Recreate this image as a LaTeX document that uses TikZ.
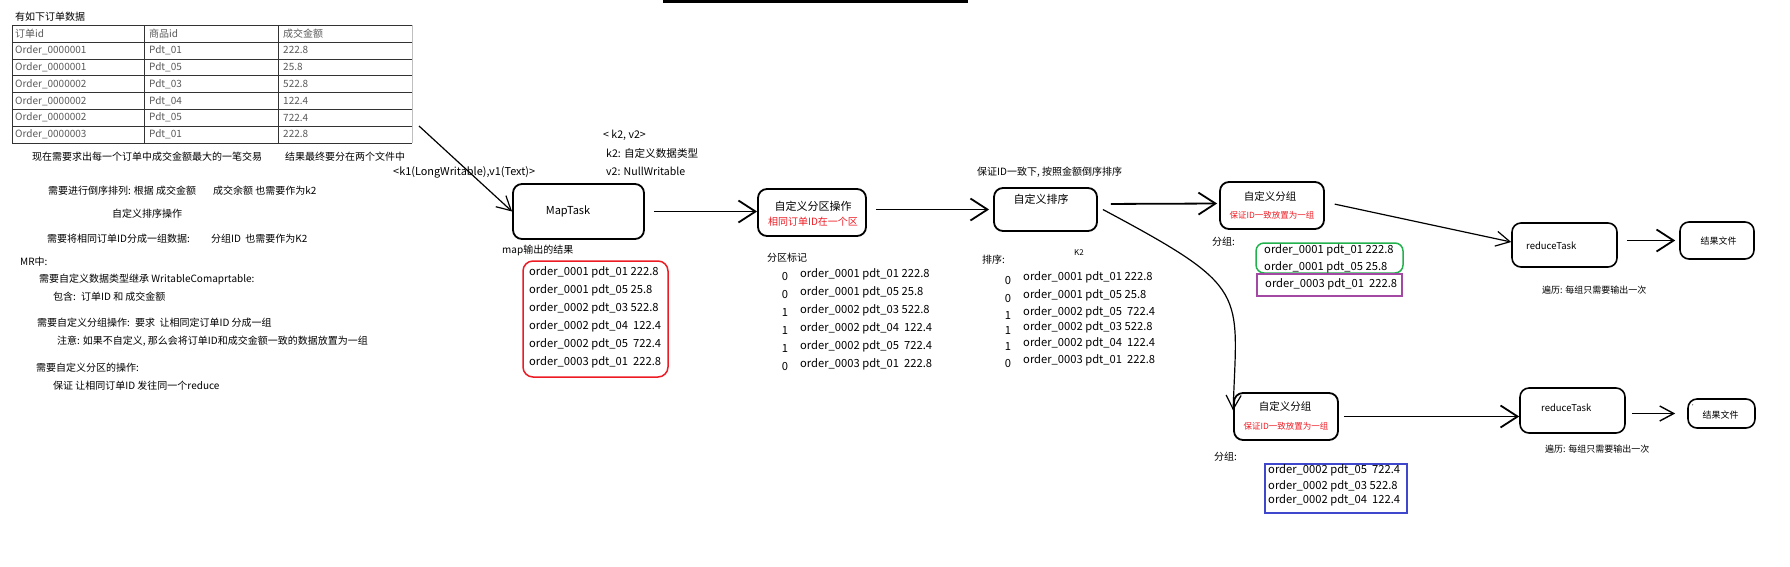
\documentclass[tikz,border=0pt]{standalone}
\usepackage{fontspec}
\setmainfont{Noto Sans CJK SC}
\usepackage{xcolor}
\definecolor{colRed}{HTML}{ED1C24}
\definecolor{colGreen}{HTML}{22B14C}
\definecolor{colPurple}{HTML}{A349A4}
\definecolor{colBlue}{HTML}{3F48CC}
\definecolor{colGrey}{HTML}{595959}
\usetikzlibrary{arrows.meta, positioning}

\tikzset{
  procbox/.style={draw, line width=1.8pt, rounded corners=9pt, inner sep=0pt},
  note/.style={anchor=west, inner sep=0pt, font=\fontsize{10}{12}\selectfont},
  kvtxt/.style={anchor=west, inner sep=0pt, font=\fontsize{10.6}{12}\selectfont},
  tbltxt/.style={anchor=west, inner sep=0pt, text=colGrey, font=\fontsize{10}{12}\selectfont},
  rowtxt/.style={anchor=west, inner sep=0pt, font=\fontsize{11.2}{13}\selectfont},
  boxtxt/.style={inner sep=0pt, font=\fontsize{11}{13}\selectfont},
  redtxt/.style={inner sep=0pt, text=colRed, font=\fontsize{8.5}{10}\selectfont},
  smalltxt/.style={anchor=west, inner sep=0pt, font=\fontsize{9}{11}\selectfont},
  flow/.style={line width=1.8pt, -{Straight Barb[length=17pt,width=22pt]}},
  thinflow/.style={line width=1.2pt, -{Straight Barb[length=14pt,width=15pt]}},
}

\begin{document}
\begin{tikzpicture}[x=1pt, y=-1pt]
  \useasboundingbox (0,0) rectangle (1790,566);
  % bar at the top
  \fill (663,0) rectangle (968,2.5);

  % === order table ===
  \node[note] (tbltitle) at (15,17) {有如下订单数据};
  \foreach \y in {25,42.3,59,75.8,92.6,109.4,126.2,143}
    \draw[line width=0.8pt, black!80] (12,\y) -- (412,\y);
  \foreach \x in {12,144,278}
    \draw[line width=0.8pt, black!80] (\x,25) -- (\x,143);
  \draw[line width=0.8pt, black!25] (412,25) -- (412,143);
  \node[tbltxt] (hdord) at (15,33.6) {订单id};
  \node[tbltxt] (hdpdt) at (149,33.6) {商品id};
  \node[tbltxt] (hdamt) at (283,33.6) {成交金额};
  \foreach \oid/\pid/\amt [count=\i] in {0000001/01/222.8, 0000001/05/25.8,
      0000002/03/522.8, 0000002/04/122.4, 0000002/05/722.4, 0000003/01/222.8} {
    \node[tbltxt] (ord\i) at (15,{33.6+16.8*\i}) {Order\_\oid};
    \node[tbltxt] (pdt\i) at (149,{33.6+16.8*\i}) {Pdt\_\pid};
    \node[tbltxt] (amt\i) at (283,{33.6+16.8*\i}) {\amt};
  }

  % === notes on the left ===
  \node[note] (n1)  at (32,157)  {现在需要求出每一个订单中成交金额最大的一笔交易};
  \node[note] (n1b) at (285,157) {结果最终要分在两个文件中};
  \node[note] (n2)  at (48,191)  {需要进行倒序排列: 根据 成交金额};
  \node[note] (n2b) at (213,191) {成交余额 也需要作为k2};
  \node[note] (n3)  at (112,214) {自定义排序操作};
  \node[note] (n4)  at (47,239)  {需要将相同订单ID分成一组数据:};
  \node[note] (n4b) at (211,239) {分组ID~ 也需要作为K2};
  \node[note] (n5)  at (20,262)  {MR中:};
  \node[note] (n6)  at (39,279)  {需要自定义数据类型继承 WritableComaprtable:};
  \node[note] (n7)  at (53,297)  {包含:~ 订单ID 和 成交金额};
  \node[note] (n8)  at (37,323)  {需要自定义分组操作:~ 要求~ 让相同定订单ID 分成一组};
  \node[note] (n9)  at (57,341)  {注意: 如果不自定义, 那么会将订单ID和成交金额一致的数据放置为一组};
  \node[note] (n10) at (36,368)  {需要自定义分区的操作:};
  \node[note] (n11) at (53,386)  {保证 让相同订单ID 发往同一个reduce};

  % === map stage ===
  \node[kvtxt, font=\fontsize{10.9}{12}\selectfont] (kv1) at (393,172) {<k1(LongWritable),v1(Text)>};
  \node[kvtxt] (kv2) at (603,135) {< k2, v2>};
  \node[kvtxt] (k2t) at (606,153) {k2: 自定义数据类型};
  \node[kvtxt] (v2t) at (606,171) {v2: NullWritable};
  \node[procbox, minimum width=131pt, minimum height=55pt] (maptask) at (578.5,211.5) {};
  \node[boxtxt] (maptxt) at (568,211) {MapTask};
  \coordinate (feed) at (419,126);
  \draw[thinflow] (feed) -- (maptask.west);

  \node[note] (mapout) at (502,250) {map输出的结果};
  \draw[colRed, line width=1.5pt, rounded corners=10pt] (523,261) rectangle (668,377);
  \foreach \r [count=\i] in {order\_0001 pdt\_01 222.8, order\_0001 pdt\_05 25.8,
      order\_0002 pdt\_03 522.8, order\_0002 pdt\_04~ 122.4,
      order\_0002 pdt\_05~ 722.4, order\_0003 pdt\_01~ 222.8}
    \node[rowtxt] (mr\i) at (529,{254+18*\i}) {\r};

  % === partition stage ===
  \node[procbox, minimum width=108pt, minimum height=47pt] (partbox) at (812,212.5) {};
  \node[boxtxt] (parttxt) at (813,206) {自定义分区操作};
  \node[redtxt, font=\fontsize{10}{12}\selectfont] (partred) at (813,222) {相同订单ID在一个区};
  \draw[flow, shorten <=9pt] (maptask.east) -- (maptask.east -| partbox.west);

  \node[note] (partlbl) at (767,258) {分区标记};
  \foreach \n/\r [count=\i] in {0/order\_0001 pdt\_01 222.8, 0/order\_0001 pdt\_05 25.8,
      1/order\_0002 pdt\_03 522.8, 1/order\_0002 pdt\_04~ 122.4,
      1/order\_0002 pdt\_05~ 722.4, 0/order\_0003 pdt\_01~ 222.8} {
    \node[rowtxt, anchor=center] (pn\i) at (785,{258+18*\i}) {\n};
    \node[rowtxt] (pr\i) at (800,{256+18*\i}) {\r};
  }

  % === sort stage ===
  \node[note] (sortnote) at (977,172) {保证ID一致下, 按照金额倒序排序};
  \node[procbox, minimum width=103pt, minimum height=43pt] (sortbox) at (1045.5,209.5) {};
  \node[boxtxt] (sorttxt) at (1041,199) {自定义排序};
  \draw[flow, shorten <=9pt, shorten >=4pt] (partbox.east |- sortbox.west) -- (sortbox.west);

  \node[inner sep=0pt, font=\fontsize{8}{9}\selectfont] (k2lbl) at (1079,253) {K2};
  \node[note] (sortlbl) at (982,260) {排序:};
  \foreach \n/\r/\y [count=\i] in {0/order\_0001 pdt\_01 222.8/277, 0/order\_0001 pdt\_05 25.8/295,
      1/order\_0002 pdt\_05~ 722.4/312, 1/order\_0002 pdt\_03 522.8/327,
      1/order\_0002 pdt\_04~ 122.4/343, 0/order\_0003 pdt\_01~ 222.8/360} {
    \node[rowtxt, anchor=center] (sn\i) at (1008,\y+3) {\n};
    \node[rowtxt] (sr\i) at (1023,\y) {\r};
  }

  % === grouping, first reducer ===
  \node[procbox, minimum width=104pt, minimum height=47pt] (grp1) at (1272,205.5) {};
  \node[boxtxt, font=\fontsize{10.5}{12}\selectfont] (grp1txt) at (1270,196) {自定义分组};
  \node[redtxt] (grp1red) at (1272,215) {保证ID一致放置为一组};
  \draw[flow, shorten <=13pt, shorten >=2pt] ([yshift=5.5pt]sortbox.east) -- ([yshift=2pt]grp1.west);

  \node[note] (grp1lbl) at (1212,242) {分组:};
  \draw[colGreen, line width=1.5pt, rounded corners=8pt] (1256,243) rectangle (1403,273);
  \draw[colPurple, line width=1.5pt] (1257,274) rectangle (1402,296);
  \node[rowtxt] (g1r1) at (1264,250) {order\_0001 pdt\_01 222.8};
  \node[rowtxt] (g1r2) at (1264,267) {order\_0001 pdt\_05 25.8};
  \node[rowtxt] (g1r3) at (1265,284) {order\_0003 pdt\_01~ 222.8};

  \node[procbox, line width=1.6pt, minimum width=105pt, minimum height=44pt] (red1) at (1564.5,245) {};
  \node[smalltxt, font=\fontsize{9.5}{11}\selectfont] (red1txt) at (1526,246) {reduceTask};
  \draw[thinflow, shorten <=10pt] ([yshift=3.5pt]grp1.east) -- ([yshift=3pt]red1.west);
  \node[smalltxt] (trav1) at (1542,290) {遍历: 每组只需要输出一次};

  \node[procbox, line width=1.6pt, minimum width=74pt, minimum height=37pt] (file1) at (1717,240.5) {};
  \node[boxtxt, font=\fontsize{9}{11}\selectfont] (file1txt) at (1718.5,241) {结果文件};
  \draw[flow, shorten <=9pt, shorten >=4pt] (red1.east |- file1.west) -- (file1.west);

  % === grouping, second reducer ===
  \node[procbox, minimum width=104pt, minimum height=47pt] (grp2) at (1286,416.5) {};
  \node[boxtxt, font=\fontsize{10.5}{12}\selectfont] (grp2txt) at (1285,406) {自定义分组};
  \node[redtxt] (grp2red) at (1286,426) {保证ID一致放置为一组};
  \draw[thinflow] ([xshift=5pt]sortbox.east) .. controls +(148,79) and +(4,-120) .. ([yshift=6pt]grp2.west);

  \node[note] (grp2lbl) at (1214,457) {分组:};
  \draw[colBlue, line width=1.5pt] (1265,464) rectangle (1407,513);
  \node[rowtxt] (g2r1) at (1268,470) {order\_0002 pdt\_05~ 722.4};
  \node[rowtxt] (g2r2) at (1268,486) {order\_0002 pdt\_03 522.8};
  \node[rowtxt] (g2r3) at (1268,500) {order\_0002 pdt\_04~ 122.4};

  \node[procbox, line width=1.6pt, minimum width=105pt, minimum height=45pt] (red2) at (1572.5,410.5) {};
  \node[smalltxt, font=\fontsize{9.5}{11}\selectfont] (red2txt) at (1541,408) {reduceTask};
  \draw[flow, shorten <=5pt] (grp2.east) -- (grp2.east -| red2.west);
  \node[smalltxt] (trav2) at (1545,449) {遍历: 每组只需要输出一次};

  \node[procbox, line width=1.6pt, minimum width=67pt, minimum height=29pt] (file2) at (1721.5,413.5) {};
  \node[boxtxt, font=\fontsize{9}{11}\selectfont] (file2txt) at (1720.5,415) {结果文件};
  \node[inner sep=0pt, font=\fontsize{6}{7}\selectfont] (file2tick) at (1695,407) {'};
  \draw[thinflow, line width=1.4pt, shorten <=6pt, shorten >=12pt] (red2.east |- file2.west) -- (file2.west);
\end{tikzpicture}
\end{document}
